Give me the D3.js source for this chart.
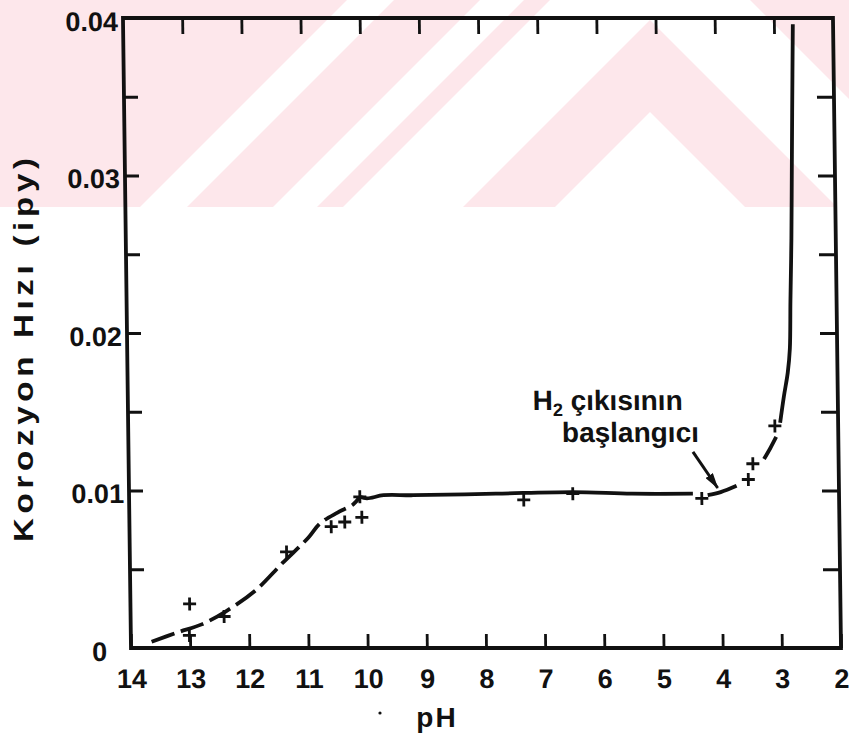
<!DOCTYPE html>
<html>
<head>
<meta charset="utf-8">
<script src="https://cdn.jsdelivr.net/npm/d3@7"></script>
<style>
  html, body { margin: 0; padding: 0; background: #fff; }
  svg { display: block; font-family: "Liberation Sans", Arial, Helvetica, sans-serif; }
</style>
</head>
<body>
<svg id="chart" width="849" height="736"></svg>
<script>
// ---- axis ticks ----
const phTicks = [14, 13, 12, 11, 10, 9, 8, 7, 6, 5, 4, 3, 2];
const rateTicks = [0, 0.01, 0.02, 0.03, 0.04];
const rateMinorTicks = [0.005, 0.015, 0.025, 0.035];

// ---- measured corrosion rates ----
const measuredPH   = [13.0, 13.01, 12.42, 11.35, 10.59, 10.36, 10.07, 10.10, 7.33, 6.50, 4.32, 3.53, 3.45, 3.07];
const measuredRate = [0.0028, 0.0008, 0.0020, 0.0061, 0.0077, 0.0080, 0.0083, 0.0096, 0.0094, 0.0098, 0.0095, 0.0107, 0.0117, 0.0141];

// ---- fitted curve, piece by piece (pH, ipy) ----
const curveAlkaline = [[13.65, 0.0004], [13.2, 0.0010], [12.8, 0.0015], [12.4, 0.0023], [11.9, 0.0036],
                       [11.42, 0.0054], [10.98, 0.0070], [10.78, 0.0079], [10.48, 0.0086], [10.22, 0.0091], [10.1, 0.0096]];
const curvePlateau  = [[10.1, 0.0096], [9.98, 0.0095], [9.7, 0.0097], [9.2, 0.0097], [7.8, 0.0098],
                       [6.5, 0.0099], [5.5, 0.0098], [4.47, 0.0098]];
const curveOnset    = [[4.22, 0.0097], [4.0, 0.0099], [3.73, 0.0103]];
const curveRise     = [[3.26, 0.0120], [3.15, 0.0127], [3.05, 0.0134]];
const curveSteep    = [[2.98, 0.0143], [2.91, 0.0160], [2.84, 0.0175], [2.8, 0.0190], [2.78, 0.0220],
                       [2.75, 0.0260], [2.73, 0.0300], [2.71, 0.0340], [2.68, 0.0396]];

// ---- annotation (placed in data units) ----
const noteLine1 = { ph: 7.16, rate: 0.0151 };
const noteLine2 = { ph: 6.67, rate: 0.01308, text: "başlangıcı" };
const noteArrow = { from: [4.46, 0.01245], to: [4.05, 0.01016] };

const W = 849, H = 736;
const x = d3.scaleLinear().domain([14, 2]).range([131, 841]);
const y = d3.scaleLinear().domain([0, 0.04]).range([648, 18]);

const svg = d3.select("#chart");
svg.append("rect").attr("width", W).attr("height", H).attr("fill", "#fff");

// ---- light red emblem band behind the upper part ----
const bandH = 207;
const defs = svg.append("defs");
defs.append("clipPath").attr("id", "bandClip")
  .append("rect").attr("width", W).attr("height", bandH);
const band = svg.append("g").attr("clip-path", "url(#bandClip)");
band.append("rect").attr("width", W).attr("height", bandH).attr("fill", "#fde7eb");
const slash = ([c1, c2]) => `M${c1},0L${c2},0L${c2 - bandH},${bandH}L${c1 - bandH},${bandH}Z`;
const backslash = ([c1, c2]) => `M${c1},0L${c2},0L${c2 + bandH},${bandH}L${c1 + bandH},${bandH}Z`;
const chevron = (cx, apex) => `M${cx},${apex}L${cx + (bandH - apex)},${bandH}L${cx - (bandH - apex)},${bandH}Z`;
[[347, 394], [480, 524], [550, 670]].forEach(s => band.append("path").attr("d", slash(s)).attr("fill", "#fff"));
[[630, 750]].forEach(s => band.append("path").attr("d", backslash(s)).attr("fill", "#fff"));
band.append("path").attr("d", chevron(650, 112)).attr("fill", "#fff");

// ---- plot (scanned page is slightly sheared) ----
const plot = svg.append("g")
  .attr("transform", `translate(0,${y(0)}) skewX(0.73) translate(0,${-y(0)})`);

const tickFont = g => g.selectAll("text")
  .attr("font-size", 27).attr("font-weight", "bold").attr("fill", "#111");
const tickLines = g => g.selectAll(".tick line").attr("stroke", "#111").attr("stroke-width", 2.8);

// bottom axis
plot.append("g").attr("transform", `translate(0,${y(0)})`)
  .call(d3.axisBottom(x).tickValues(phTicks).tickSizeInner(-14).tickSizeOuter(0)
    .tickPadding(21).tickFormat(d3.format("d")))
  .call(g => g.select(".domain").remove())
  .call(tickFont).call(tickLines);

// top axis
plot.append("g").attr("transform", `translate(0,${y(0.04)})`)
  .call(d3.axisTop(x).tickValues(phTicks.slice(1, -1)).tickSizeInner(-16).tickSizeOuter(0).tickFormat(""))
  .call(g => g.select(".domain").remove())
  .call(tickLines);

// left axis
const yLeft = plot.append("g").attr("transform", `translate(${x(14)},0)`)
  .call(d3.axisLeft(y).tickValues(rateTicks.concat(rateMinorTicks)).tickSizeInner(-14).tickSizeOuter(0)
    .tickPadding(5).tickFormat(d => rateTicks.includes(d) ? (d === 0 ? "0" : d3.format(".2f")(d)) : ""))
  .call(g => g.select(".domain").remove())
  .call(tickFont).call(tickLines);
yLeft.selectAll("text").attr("dy", "0.45em");
yLeft.selectAll(".tick").filter(d => d === 0).select("text").attr("x", -24);

// right axis
plot.append("g").attr("transform", `translate(${x(2)},0)`)
  .call(d3.axisRight(y).tickValues(rateTicks.slice(1, -1).concat(rateMinorTicks)).tickSizeInner(-17)
    .tickSizeOuter(0).tickFormat(""))
  .call(g => g.select(".domain").remove())
  .call(tickLines);

// frame
plot.append("rect")
  .attr("x", x(14)).attr("y", y(0.04))
  .attr("width", x(2) - x(14)).attr("height", y(0) - y(0.04))
  .attr("fill", "none").attr("stroke", "#111").attr("stroke-width", 3.8);

// curve
const line = d3.line().x(d => x(d[0])).y(d => y(d[1])).curve(d3.curveCatmullRom.alpha(0.5));
const curveStyle = sel => sel.attr("fill", "none").attr("stroke", "#111").attr("stroke-width", 3.8);
plot.append("path").datum(curveAlkaline).attr("d", line).call(curveStyle).attr("stroke-dasharray", "24,7");
[curvePlateau, curveOnset, curveRise, curveSteep].forEach(seg =>
  plot.append("path").datum(seg).attr("d", line).call(curveStyle));

// measured points
plot.selectAll("path.pt")
  .data(d3.zip(measuredPH, measuredRate))
  .join("path").attr("class", "pt")
  .attr("transform", d => `translate(${x(d[0])},${y(d[1])})`)
  .attr("d", "M-6.5,0H6.5M0,-6.5V6.5")
  .attr("stroke", "#111").attr("stroke-width", 2.8).attr("fill", "none");

// annotation
const note = plot.append("text")
  .attr("x", x(noteLine1.ph)).attr("y", y(noteLine1.rate))
  .attr("font-size", 28).attr("font-weight", "bold").attr("fill", "#111");
note.append("tspan").text("H");
note.append("tspan").attr("font-size", 18).attr("dy", 6).text("2");
note.append("tspan").attr("dy", -6).text(" çıkısının");
plot.append("text")
  .attr("x", x(noteLine2.ph)).attr("y", y(noteLine2.rate))
  .attr("font-size", 28).attr("font-weight", "bold").attr("fill", "#111")
  .text(noteLine2.text);

defs.append("marker").attr("id", "arrowHead")
  .attr("viewBox", "0 0 16 9").attr("refX", 15).attr("refY", 4.5)
  .attr("markerWidth", 16).attr("markerHeight", 9).attr("markerUnits", "userSpaceOnUse")
  .attr("orient", "auto")
  .append("path").attr("d", "M0,0L16,4.5L0,9Z").attr("fill", "#111");
plot.append("line")
  .attr("x1", x(noteArrow.from[0])).attr("y1", y(noteArrow.from[1]))
  .attr("x2", x(noteArrow.to[0])).attr("y2", y(noteArrow.to[1]))
  .attr("stroke", "#111").attr("stroke-width", 3)
  .attr("marker-end", "url(#arrowHead)");

// axis titles
const yTitleStretch = 1.18;
svg.append("text")
  .attr("transform", `translate(33,${(158 + 542) / 2}) rotate(-90) scale(${yTitleStretch},1)`)
  .attr("text-anchor", "middle").attr("font-size", 28).attr("font-weight", "bold").attr("fill", "#111")
  .attr("textLength", (542 - 158) / yTitleStretch).attr("lengthAdjust", "spacing")
  .text("Korozyon Hızı (ipy)");

svg.append("text")
  .attr("x", 437).attr("y", 727)
  .attr("text-anchor", "middle").attr("font-size", 28).attr("font-weight", "bold").attr("fill", "#111")
  .attr("letter-spacing", 2)
  .text("pH");
svg.append("circle").attr("cx", 380).attr("cy", 713).attr("r", 1.6).attr("fill", "#111");
</script>
</body>
</html>
